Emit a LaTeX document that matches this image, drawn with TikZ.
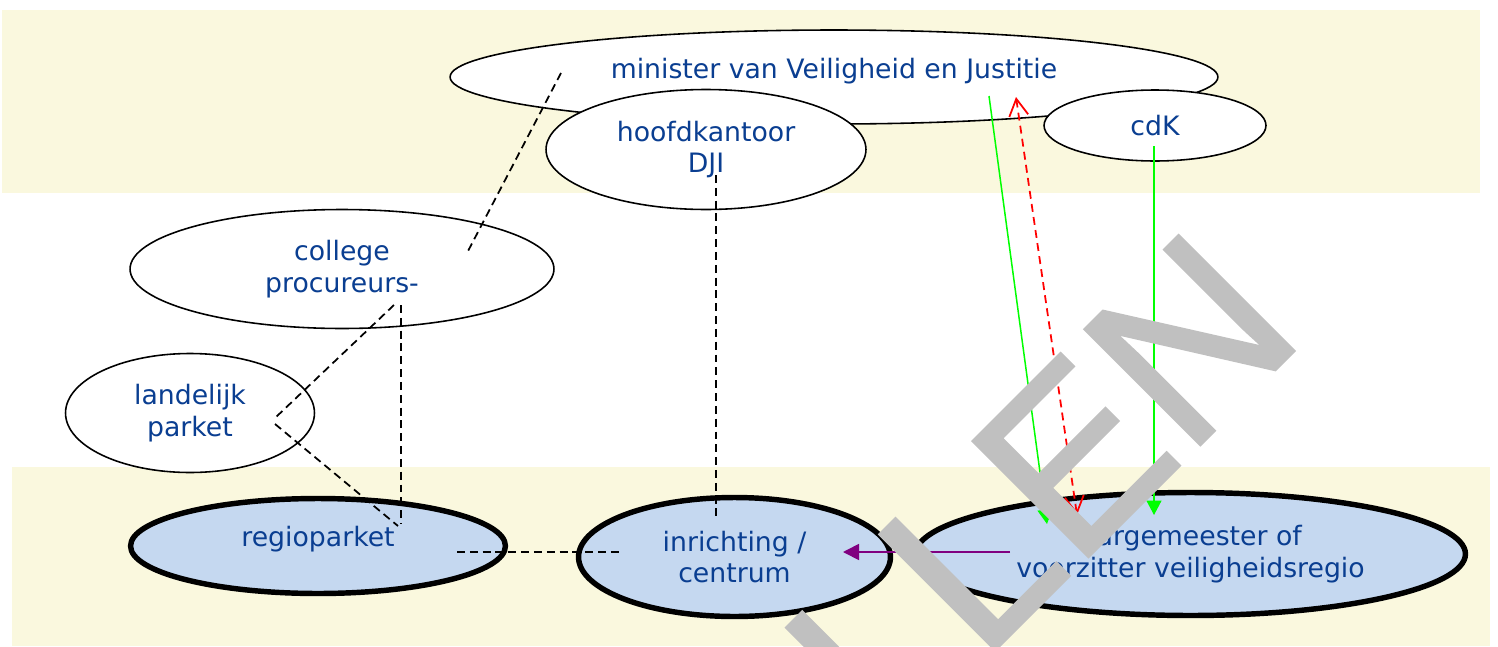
\documentclass[tikz,border=0pt]{standalone}
\usepackage{fontspec}
\setmainfont{DejaVu Sans}
\newfontfamily\wmfont[FakeBold=1.2]{Liberation Sans}
\usetikzlibrary{shapes.geometric,arrows.meta}
\definecolor{bandcol}{RGB}{250,248,222}
\definecolor{cellblue}{RGB}{197,216,240}
\definecolor{txtblue}{RGB}{10,62,145}
\definecolor{wmgray}{RGB}{192,192,192}
\definecolor{purp}{RGB}{128,0,128}
\begin{document}
\begin{tikzpicture}[x=0.02cm,y=-0.02cm,
  thinell/.style={ellipse, draw=black, line width=0.9pt, fill=white, inner sep=0pt,
    text=txtblue, align=center, font=\fontsize{15.2}{18.1}\selectfont},
  thickell/.style={thinell, fill=cellblue, line width=3.1pt},
  dashline/.style={draw=black, line width=1pt, dash pattern=on 4.5pt off 2.8pt},
  greenarrow/.style={draw=green, line width=0.85pt, -{Triangle[length=0.29cm,width=0.3cm]}},
  redarrow/.style={draw=red, line width=1pt, dash pattern=on 4.5pt off 3pt,
    {Straight Barb[length=0.34cm,width=0.38cm]}-{Straight Barb[length=0.34cm,width=0.38cm]}},
  purparrow/.style={draw=purp, line width=1pt, -{Triangle[length=0.32cm,width=0.32cm]}}
]
\useasboundingbox (0,0) rectangle (1498,646);
% bands
\fill[bandcol] (2,10) rectangle (1480,193);
\fill[bandcol] (12,467) rectangle (1490,646);

% nodes
\node[thinell, minimum width=15.36cm, minimum height=1.88cm] (min) at (834,77)
  {\raisebox{0.12cm}[\height][\depth]{minister van Veiligheid en Justitie}};
\node[thinell, minimum width=6.4cm, minimum height=2.4cm] (dji) at (706,149.5)
  {hoofdkantoor\\DJI};
\node[thinell, minimum width=4.44cm, minimum height=1.42cm] (cdk) at (1155,125.5)
  {cdK};
\node[thinell, minimum width=8.48cm, minimum height=2.38cm] (pg) at (342,269)
  {college\\procureurs-};
\node[thinell, minimum width=4.98cm, minimum height=2.38cm] (lp) at (190,413)
  {landelijk\\parket};
\node[thickell, minimum width=7.5cm, minimum height=1.9cm] (rp) at (318,546)
  {\raisebox{0.14cm}[\height][\depth]{regioparket}};
\node[thickell, minimum width=6.24cm, minimum height=2.38cm] (inr) at (734.5,557)
  {inrichting /\\centrum};
\node[thickell, minimum width=11cm, minimum height=2.46cm] (bgm) at (1190.5,554)
  {burgemeester of\\voorzitter veiligheidsregio};

% connector end points
\coordinate (minA) at (561,73);   \coordinate (pgA) at (467,253);
\coordinate (pgB) at (401,305);   \coordinate (rpB) at (401,524);
\coordinate (pgC) at (394,305);   \coordinate (lpC) at (275,418);
\coordinate (lpD) at (275,424);   \coordinate (rpD) at (398,526);
\coordinate (rpE) at (457,552);   \coordinate (inrE) at (620,552);
\coordinate (djiF) at (716,175);  \coordinate (inrF) at (716,517);
\coordinate (minG) at (989,96);   \coordinate (bgmG) at (1047,524);
\coordinate (minH) at (1016,97);  \coordinate (bgmH) at (1077,515);
\coordinate (cdkI) at (1154,146); \coordinate (bgmI) at (1154,515);
\coordinate (bgmJ) at (1010,552); \coordinate (inrJ) at (843,552);

% connectors
\draw[dashline] (minA) -- (pgA);
\draw[dashline] (pgB) -- (rpB);
\draw[dashline] (pgC) -- (lpC);
\draw[dashline] (lpD) -- (rpD);
\draw[dashline] (rpE) -- (inrE);
\draw[dashline] (djiF) -- (inrF);
\draw[greenarrow] (minG) -- (bgmG);
\draw[redarrow] (minH) -- (bgmH);
\draw[greenarrow] (cdkI) -- (bgmI);
\draw[purparrow] (bgmJ) -- (inrJ);

% watermark
\begin{scope}
\clip (0,0) rectangle (1498,646);
\node[rotate=45, anchor=base east, inner sep=0pt, text=wmgray,
  font=\wmfont\fontsize{135}{135}\selectfont] (wm) at (1308,337) {VERVALLEN};
\end{scope}
\end{tikzpicture}
\end{document}
